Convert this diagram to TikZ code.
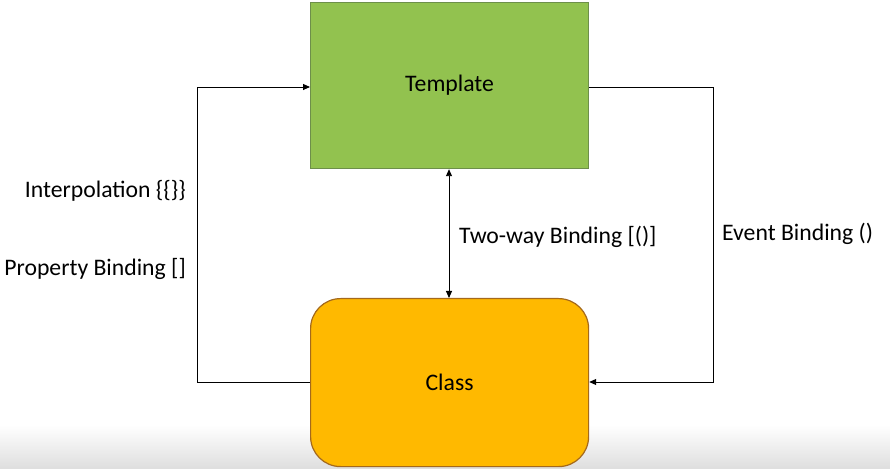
\documentclass[tikz,border=0pt]{standalone}
\usepackage{fontspec}
\setmainfont{Carlito}
\usetikzlibrary{arrows.meta}
\definecolor{tgreen}{HTML}{92C24F}
\definecolor{tgreenb}{HTML}{6D8F4A}
\definecolor{cgold}{HTML}{FFB900}
\definecolor{cgoldb}{HTML}{A4691C}
\tikzset{
  box/.style={draw, line width=1.2pt, minimum width=278bp, minimum height=166bp, inner sep=0pt, font=\fontsize{23.8}{28}\selectfont},
  conn/.style={draw=black, line width=0.9pt, -{Triangle[length=7bp,width=6bp]}},
  lbl/.style={font=\fontsize{23.8}{28}\selectfont, inner sep=0pt}
}
\begin{document}
\begin{tikzpicture}[x=1bp,y=-1bp]
\useasboundingbox (0,0) rectangle (890,469);
\shade[top color=white, bottom color=black!13] (0,425) rectangle (890,469);
\node[box, fill=tgreen, draw=tgreenb, anchor=north west] (tpl) at (310,2) {\raisebox{-3bp}{Template}};
\node[box, fill=cgold, draw=cgoldb, rounded corners=30bp, anchor=north west, minimum height=168bp] (cls) at (310,298) {\raisebox{-2bp}{Class}};
\coordinate (lb) at (197,382);
\coordinate (lt) at (197,87);
\coordinate (rt) at (713,87);
\coordinate (rb) at (713,382);
\draw[conn] (cls.west |- lb) -- (lb) -- (lt) -- (tpl.west |- lt);
\draw[conn] (tpl.east |- rt) -- (rt) -- (rb) -- (cls.east |- rb);
\draw[conn, {Triangle[length=7bp,width=6bp]}-{Triangle[length=7bp,width=6bp]}] (tpl.south -| 449,0) -- (cls.north -| 449,0);
\node[lbl, anchor=east] (interp) at (186,191) {Interpolation \{\{\}\}};
\node[lbl, anchor=east] (prop) at (186,269) {Property Binding []};
\node[lbl, anchor=west] (twoway) at (459,237) {Two-way Binding [()]};
\node[lbl, anchor=west] (event) at (722,234) {Event Binding ()};
\end{tikzpicture}
\end{document}
